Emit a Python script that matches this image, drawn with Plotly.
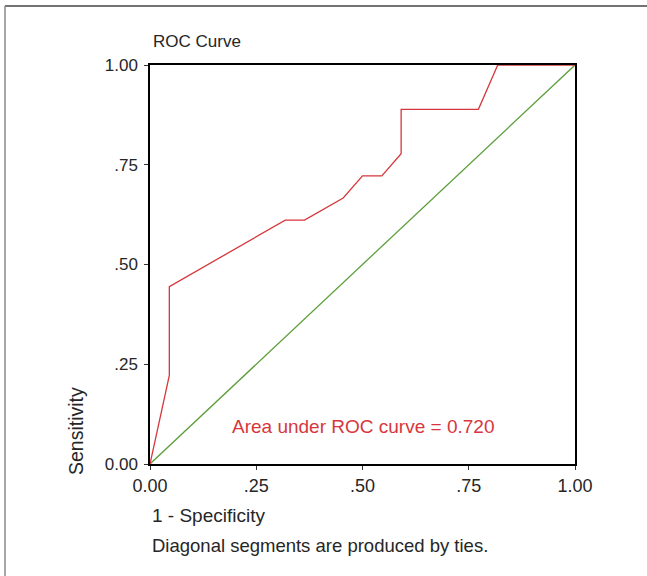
import plotly.graph_objects as go

# ROC curve data (1 - specificity, sensitivity)
fpr = [0.0, 1/22, 1/22, 7/22, 8/22, 10/22, 11/22, 12/22, 13/22, 13/22, 17/22, 18/22, 1.0]
tpr = [0.0, 4/18, 8/18, 11/18, 11/18, 12/18, 13/18, 13/18, 14/18, 16/18, 16/18, 1.0, 1.0]
ref_x = [0.0, 1.0]
ref_y = [0.0, 1.0]
tick_vals = [0.0, 0.25, 0.5, 0.75, 1.0]
tick_text = ["0.00", ".25", ".50", ".75", "1.00"]
auc_text = "Area under ROC curve = 0.720"

FONT = "Liberation Sans, Arial, sans-serif"
RED = "#d6373c"
GREEN = "#5c9e3c"
TXT = "#262626"

W, H = 647, 576
L, R, T, B = 150, 72, 65, 112
pw, ph = W - L - R, H - T - B

def px(xp):
    return (xp - L) / pw

def py(yp):
    return (H - B - yp) / ph

fig = go.Figure()
fig.add_trace(go.Scatter(x=ref_x, y=ref_y, mode="lines",
                         line=dict(color=GREEN, width=1.3), hoverinfo="skip"))
fig.add_trace(go.Scatter(x=fpr, y=tpr, mode="lines",
                         line=dict(color=RED, width=1.3), hoverinfo="skip"))

axis_common = dict(range=[0, 1], tickvals=tick_vals, ticktext=tick_text,
                   showgrid=False, zeroline=False, showline=True, mirror=True,
                   linecolor="black", linewidth=1.5, ticks="outside", ticklen=4,
                   tickcolor="#333", tickwidth=1)

fig.update_layout(
    width=W, height=H,
    margin=dict(l=L, r=R, t=T, b=B),
    paper_bgcolor="white", plot_bgcolor="white",
    showlegend=False,
    xaxis=dict(**axis_common, ticklabelstandoff=1,
               tickfont=dict(family=FONT, size=18, color=TXT)),
    yaxis=dict(**axis_common, ticklabelstandoff=3,
               tickfont=dict(family=FONT, size=17, color=TXT)),
    font=dict(family=FONT, color=TXT),
)

annos = [
    dict(text="ROC Curve", x=px(151), y=py(41), xanchor="left", yanchor="middle",
         font=dict(size=17)),
    dict(text="1 - Specificity", x=px(150), y=py(515), xanchor="left", yanchor="middle",
         font=dict(size=19)),
    dict(text="Diagonal segments are produced by ties.", x=px(150), y=py(545),
         xanchor="left", yanchor="middle", font=dict(size=18.5)),
    dict(text="Sensitivity", x=px(76), y=py(477), xanchor="center", yanchor="bottom",
         textangle=-90, font=dict(size=19.5)),
]
for a in annos:
    a.update(xref="paper", yref="paper", showarrow=False)
    fig.add_annotation(**a)

fig.add_annotation(text=auc_text, x=0.501, y=0.095, xref="x", yref="y",
                   showarrow=False, font=dict(size=19, color=RED, family=FONT))

# outer frame (top and left edges)
fig.add_shape(type="line", xref="paper", yref="paper", x0=px(5), x1=px(W + 5),
              y0=py(6), y1=py(6), line=dict(color="#444", width=1.5))
fig.add_shape(type="line", xref="paper", yref="paper", x0=px(5), x1=px(5),
              y0=py(6), y1=py(H + 5), line=dict(color="#888", width=1.5))

fig.write_html("out.html")
